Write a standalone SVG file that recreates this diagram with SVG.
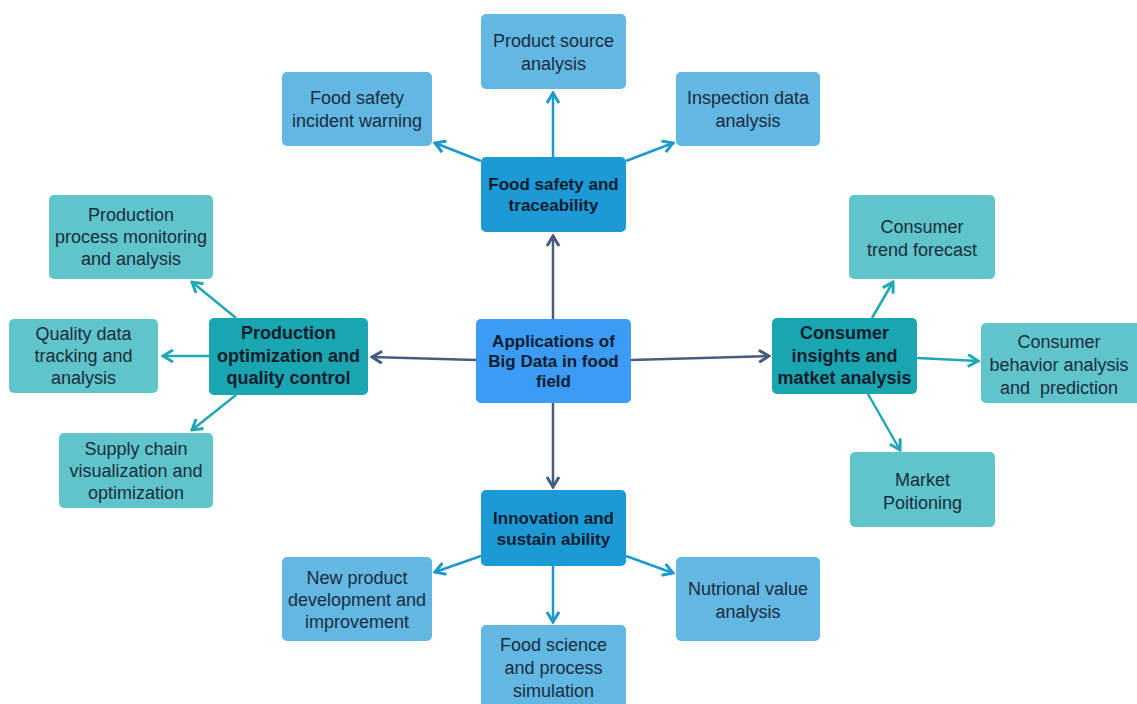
<svg xmlns="http://www.w3.org/2000/svg" width="1137" height="704" viewBox="0 0 1137 704">
<style>
.leafB{fill:#63b8e3}
.leafT{fill:#5fc5ca}
.mainB{fill:#1b9ad6}
.mainT{fill:#1aa6b1}
.center{fill:#3b9bf5}
text{font-family:"Liberation Sans",Arial,sans-serif;text-anchor:middle}
.lt{font-size:18px;fill:#1b2b3d}
.bt{font-size:17px;font-weight:bold;fill:#0f1c2e}
.tt{font-size:18px;font-weight:bold;fill:#0f1c2e}
.cd{stroke:#455e7c;stroke-width:2.5;fill:none}
.cb{stroke:#1d98cf;stroke-width:2.5;fill:none}
.ct{stroke:#20a8b2;stroke-width:2.5;fill:none}
</style>
<defs>
<marker id="ad" markerUnits="userSpaceOnUse" markerWidth="14" markerHeight="14" viewBox="0 0 14 14" refX="12" refY="7" orient="auto"><path d="M2,1 L12,7 L2,13" fill="none" stroke="#455e7c" stroke-width="3"/></marker>
<marker id="ab" markerUnits="userSpaceOnUse" markerWidth="14" markerHeight="14" viewBox="0 0 14 14" refX="12" refY="7" orient="auto"><path d="M2,1 L12,7 L2,13" fill="none" stroke="#1d98cf" stroke-width="3"/></marker>
<marker id="at" markerUnits="userSpaceOnUse" markerWidth="14" markerHeight="14" viewBox="0 0 14 14" refX="12" refY="7" orient="auto"><path d="M2,1 L12,7 L2,13" fill="none" stroke="#20a8b2" stroke-width="3"/></marker>
</defs>
<rect width="1137" height="704" fill="#ffffff"/>
<g id="connectors">
<line class="cd" x1="553" y1="319" x2="553" y2="236" marker-end="url(#ad)"/>
<line class="cd" x1="553" y1="403" x2="553" y2="487" marker-end="url(#ad)"/>
<line class="cd" x1="476" y1="360" x2="372" y2="357" marker-end="url(#ad)"/>
<line class="cd" x1="631" y1="360" x2="769" y2="356" marker-end="url(#ad)"/>
<line class="cb" x1="553" y1="157" x2="553" y2="93" marker-end="url(#ab)"/>
<line class="cb" x1="481" y1="161" x2="435" y2="143" marker-end="url(#ab)"/>
<line class="cb" x1="626" y1="161" x2="673" y2="143" marker-end="url(#ab)"/>
<line class="cb" x1="481" y1="556" x2="435" y2="572" marker-end="url(#ab)"/>
<line class="cb" x1="553" y1="566" x2="553" y2="622" marker-end="url(#ab)"/>
<line class="cb" x1="626" y1="556" x2="673" y2="573" marker-end="url(#ab)"/>
<line class="ct" x1="236" y1="318" x2="192" y2="282" marker-end="url(#at)"/>
<line class="ct" x1="209" y1="356" x2="163" y2="356" marker-end="url(#at)"/>
<line class="ct" x1="236" y1="395" x2="192" y2="430" marker-end="url(#at)"/>
<line class="ct" x1="872" y1="318" x2="893" y2="282" marker-end="url(#at)"/>
<line class="ct" x1="917" y1="358" x2="978" y2="361" marker-end="url(#at)"/>
<line class="ct" x1="868" y1="394" x2="900" y2="450" marker-end="url(#at)"/>
</g>
<g id="center"><rect class="center" x="476" y="319" width="155" height="84" rx="5"/>
<text class="bt"><tspan x="553.5" y="347">Applications of</tspan><tspan x="553.5" y="367">Big Data in food</tspan><tspan x="553.5" y="387">field</tspan></text></g>
<g id="food-safety"><rect class="mainB" x="481" y="157" width="145" height="75" rx="5"/>
<text class="bt"><tspan x="553.5" y="190">Food safety and</tspan><tspan x="553.5" y="211">traceability</tspan></text></g>
<g id="innovation"><rect class="mainB" x="481" y="490" width="145" height="76" rx="5"/>
<text class="bt"><tspan x="553.5" y="524">Innovation and</tspan><tspan x="553.5" y="545">sustain ability</tspan></text></g>
<g id="production"><rect class="mainT" x="209" y="318" width="159" height="77" rx="5"/>
<text class="tt"><tspan x="288.5" y="339">Production</tspan><tspan x="288.5" y="362">optimization and</tspan><tspan x="288.5" y="384">quality control</tspan></text></g>
<g id="consumer"><rect class="mainT" x="772" y="318" width="145" height="76" rx="5"/>
<text class="tt"><tspan x="844.5" y="339">Consumer</tspan><tspan x="844.5" y="362">insights and</tspan><tspan x="844.5" y="384">matket analysis</tspan></text></g>
<g id="product-source"><rect class="leafB" x="481" y="14" width="145" height="75" rx="5"/>
<text class="lt"><tspan x="553.5" y="47">Product source</tspan><tspan x="553.5" y="70">analysis</tspan></text></g>
<g id="incident-warning"><rect class="leafB" x="282" y="72" width="150" height="74" rx="5"/>
<text class="lt"><tspan x="357" y="104">Food safety</tspan><tspan x="357" y="127">incident warning</tspan></text></g>
<g id="inspection"><rect class="leafB" x="676" y="72" width="144" height="74" rx="5"/>
<text class="lt"><tspan x="748" y="104">Inspection data</tspan><tspan x="748" y="127">analysis</tspan></text></g>
<g id="new-product"><rect class="leafB" x="282" y="557" width="150" height="84" rx="5"/>
<text class="lt"><tspan x="357" y="584">New product</tspan><tspan x="357" y="606">development and</tspan><tspan x="357" y="628">improvement</tspan></text></g>
<g id="food-science"><rect class="leafB" x="481" y="625" width="145" height="85" rx="5"/>
<text class="lt"><tspan x="553.5" y="651">Food science</tspan><tspan x="553.5" y="674">and process</tspan><tspan x="553.5" y="697">simulation</tspan></text></g>
<g id="nutrional"><rect class="leafB" x="676" y="557" width="144" height="84" rx="5"/>
<text class="lt"><tspan x="748" y="595">Nutrional value</tspan><tspan x="748" y="618">analysis</tspan></text></g>
<g id="process-monitoring"><rect class="leafT" x="49" y="195" width="164" height="84" rx="5"/>
<text class="lt"><tspan x="131" y="221">Production</tspan><tspan x="131" y="243">process monitoring</tspan><tspan x="131" y="265">and analysis</tspan></text></g>
<g id="quality-data"><rect class="leafT" x="9" y="319" width="149" height="74" rx="5"/>
<text class="lt"><tspan x="83.5" y="340">Quality data</tspan><tspan x="83.5" y="362">tracking and</tspan><tspan x="83.5" y="384">analysis</tspan></text></g>
<g id="supply-chain"><rect class="leafT" x="59" y="433" width="154" height="75" rx="5"/>
<text class="lt"><tspan x="136" y="455">Supply chain</tspan><tspan x="136" y="477">visualization and</tspan><tspan x="136" y="499">optimization</tspan></text></g>
<g id="trend-forecast"><rect class="leafT" x="849" y="195" width="146" height="84" rx="5"/>
<text class="lt"><tspan x="922" y="233">Consumer</tspan><tspan x="922" y="256">trend forecast</tspan></text></g>
<g id="behavior"><rect class="leafT" x="981" y="323" width="160" height="80" rx="5"/>
<text class="lt"><tspan x="1059" y="348">Consumer</tspan><tspan x="1059" y="371">behavior analysis</tspan><tspan x="1059" y="394">and&#160; prediction</tspan></text></g>
<g id="market"><rect class="leafT" x="850" y="452" width="145" height="75" rx="5"/>
<text class="lt"><tspan x="922.5" y="486">Market</tspan><tspan x="922.5" y="509">Poitioning</tspan></text></g>
</svg>
